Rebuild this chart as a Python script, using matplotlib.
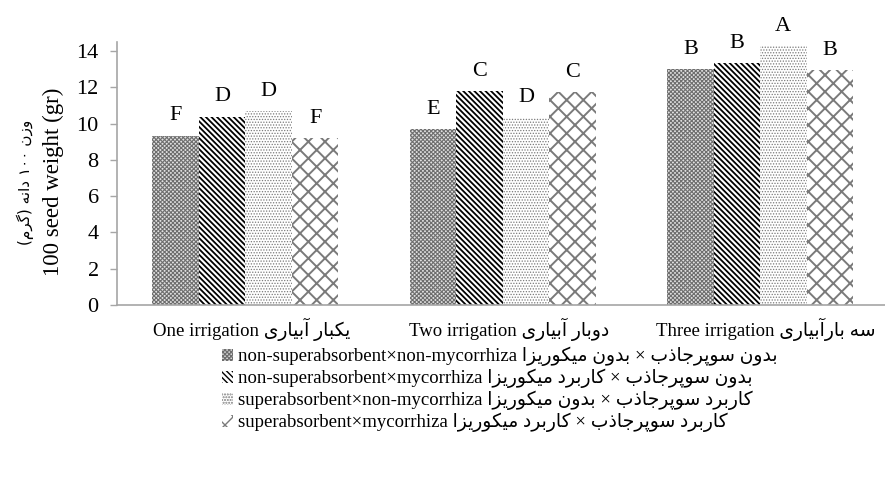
import re
import matplotlib
matplotlib.use('Agg')
import matplotlib.pyplot as plt
import matplotlib.transforms as mtransforms
import numpy as np

# ---------------- data ----------------
groups_en = ['One irrigation', 'Two irrigation', 'Three irrigation']
groups_fa = ['یکبار آبیاری', 'دوبار آبیاری', 'سه بارآبیاری']
series_en = ['non-superabsorbent×non-mycorrhiza',
             'non-superabsorbent×mycorrhiza',
             'superabsorbent×non-mycorrhiza',
             'superabsorbent×mycorrhiza']
series_fa = ['بدون سوپرجاذب × بدون میکوریزا',
             'بدون سوپرجاذب × کاربرد میکوریزا',
             'کاربرد سوپرجاذب × بدون میکوریزا',
             'کاربرد سوپرجاذب × کاربرد میکوریزا']
s1_values = [9.33, 9.70, 13.01]
s2_values = [10.38, 11.80, 13.34]
s3_values = [10.69, 10.33, 14.26]
s4_values = [9.19, 11.72, 12.95]
s1_letters = ['F', 'E', 'B']
s2_letters = ['D', 'C', 'B']
s3_letters = ['D', 'D', 'A']
s4_letters = ['F', 'C', 'B']
ylabel_en = '100 seed weight (gr)'
ylabel_fa = 'وزن ۱۰۰ دانه (گرم)'
yticks = [0, 2, 4, 6, 8, 10, 12, 14]

# ---------------- minimal Persian shaping + visual ordering ----------------
FORMS = {
    'ا': ('\uFE8D', '\uFE8E', None, None),
    'آ': ('\uFE81', '\uFE82', None, None),
    'ب': ('\uFE8F', '\uFE90', '\uFE91', '\uFE92'),
    'پ': ('\uFB56', '\uFB57', '\uFB58', '\uFB59'),
    'ت': ('\uFE95', '\uFE96', '\uFE97', '\uFE98'),
    'ج': ('\uFE9D', '\uFE9E', '\uFE9F', '\uFEA0'),
    'چ': ('\uFB7A', '\uFB7B', '\uFB7C', '\uFB7D'),
    'د': ('\uFEA9', '\uFEAA', None, None),
    'ذ': ('\uFEAB', '\uFEAC', None, None),
    'ر': ('\uFEAD', '\uFEAE', None, None),
    'ز': ('\uFEAF', '\uFEB0', None, None),
    'ژ': ('\uFB8A', '\uFB8B', None, None),
    'س': ('\uFEB1', '\uFEB2', '\uFEB3', '\uFEB4'),
    'ک': ('\uFB8E', '\uFB8F', '\uFB90', '\uFB91'),
    'گ': ('\uFB92', '\uFB93', '\uFB94', '\uFB95'),
    'ل': ('\uFEDD', '\uFEDE', '\uFEDF', '\uFEE0'),
    'م': ('\uFEE1', '\uFEE2', '\uFEE3', '\uFEE4'),
    'ن': ('\uFEE5', '\uFEE6', '\uFEE7', '\uFEE8'),
    'ه': ('\uFEE9', '\uFEEA', '\uFEEB', '\uFEEC'),
    'و': ('\uFEED', '\uFEEE', None, None),
    'ی': ('\uFBFC', '\uFBFD', '\uFBFE', '\uFBFF'),
}


def shape(s):
    out = []
    for i, c in enumerate(s):
        if c not in FORMS:
            out.append(c)
            continue
        prev = s[i - 1] if i > 0 else ''
        nxt = s[i + 1] if i + 1 < len(s) else ''
        pj = prev in FORMS and FORMS[prev][2] is not None
        nj = nxt in FORMS and FORMS[c][2] is not None
        f = FORMS[c]
        if pj and nj:
            out.append(f[3])
        elif pj:
            out.append(f[1])
        elif nj:
            out.append(f[2])
        else:
            out.append(f[0])
    return ''.join(out)


def fa(s):
    tokens = re.findall(r'[0-9\u06F0-\u06F9]+|.', shape(s), flags=re.S)
    mirror = {'(': ')', ')': '('}
    return ''.join(mirror.get(t, t) for t in reversed(tokens))


# ---------------- figure ----------------
SERIF = ['Liberation Serif', 'DejaVu Sans']
plt.rcParams['font.family'] = SERIF

fig = plt.figure(figsize=(8.85, 4.79), dpi=100)
ax = fig.add_axes([116.7 / 885, 1 - 305 / 479, (888.75 - 116.7) / 885, (305 - 42) / 479])

all_values = [s1_values, s2_values, s3_values, s4_values]
all_letters = [s1_letters, s2_letters, s3_letters, s4_letters]
styles = [
    dict(facecolor='#e0e0e0', edgecolor='#6e6e6e', hatch='xxxxxxxx', hlw=0.8),
    dict(facecolor='white', edgecolor='black', hatch='\\' * 6, hlw=1.3),
    dict(facecolor='white', edgecolor='#7a7a7a', hatch='.' * 6, hlw=0.6),
    dict(facecolor='white', edgecolor='#7a7a7a', hatch='xx', hlw=1.4),
]
x = np.arange(len(groups_en))
bw = 0.1806
handles = []
for k, (vals, st) in enumerate(zip(all_values, styles)):
    with plt.rc_context({'hatch.linewidth': st['hlw']}):
        b = ax.bar(x + (k - 1.5) * bw, vals, width=bw, facecolor=st['facecolor'],
                   edgecolor=st['edgecolor'], hatch=st['hatch'], linewidth=0,
                   label=series_en[k] + ' ' + fa(series_fa[k]))
    handles.append(b)
    for xi, v, lt in zip(x + (k - 1.5) * bw, vals, all_letters[k]):
        ax.annotate(lt, xy=(xi, v), xytext=(0, 11), textcoords='offset points',
                    ha='center', va='baseline', fontsize=16, family=SERIF)

ax.set_xlim(-0.5, 2.5)
ax.set_ylim(0, 14.5)
ax.set_yticks(yticks)
ax.set_xticks(x, labels=[e + ' ' + fa(p) for e, p in zip(groups_en, groups_fa)])
ax.tick_params(axis='y', length=5, width=1, color='#a6a6a6', pad=8, labelsize=16)
ax.tick_params(axis='x', length=0, pad=9, labelsize=13.5)
shift = mtransforms.ScaledTranslation(6 / 100, 0, fig.dpi_scale_trans)
for lbl in ax.get_xticklabels():
    lbl.set_transform(lbl.get_transform() + shift)
for s in ['top', 'right']:
    ax.spines[s].set_visible(False)
for s in ['left', 'bottom']:
    ax.spines[s].set_color('#a6a6a6')
    ax.spines[s].set_linewidth(1.2)

fig.text(53 / 885, 1 - 182 / 479, ylabel_en, rotation=90, ha='center', va='center',
         fontsize=16.5, family=SERIF)
fig.text(25 / 885, 1 - 182 / 479, fa(ylabel_fa), rotation=90, ha='center', va='center',
         fontsize=11, family=['DejaVu Sans'])

leg = fig.legend(handles=handles, loc='upper left', bbox_to_anchor=(222 / 885, 1 - 347 / 479),
                 frameon=False, borderpad=0, borderaxespad=0, handlelength=0.6,
                 handleheight=0.6, handletextpad=0.25, labelspacing=0.14,
                 prop={'family': SERIF, 'size': 13.5})

fig.savefig('out.png', dpi=100)
